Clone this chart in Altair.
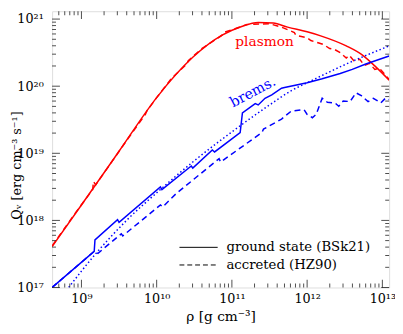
import altair as alt
import pandas as pd

# ---- data (log10 rho, log10 Q) ----
red_solid_lx = [8.61, 9.0, 9.5, 10.0, 10.48, 10.87, 11.13, 11.35, 11.55, 11.74, 12.0, 12.18, 12.52, 12.74, 12.92, 13.09]
red_solid_ly = [17.61, 18.23, 19.03, 19.83, 20.43, 20.76, 20.89, 20.95, 20.94, 20.88, 20.81, 20.75, 20.60, 20.46, 20.28, 20.09]

red_dash_lx = [8.61, 8.9, 9.15, 9.16, 9.19, 9.6, 9.85, 9.87, 10.0, 10.2, 10.4, 10.42, 10.6, 10.87, 10.89, 11.05, 11.2, 11.5, 11.66, 11.83, 11.85, 12.0, 12.05, 12.22, 12.30, 12.36, 12.44, 12.52, 12.56, 12.62, 12.70, 12.76, 12.83, 12.90, 12.96, 13.09]
red_dash_ly = [17.62, 18.08, 18.46, 18.58, 18.53, 19.19, 19.58, 19.63, 19.83, 20.12, 20.33, 20.38, 20.56, 20.76, 20.80, 20.86, 20.92, 20.93, 20.88, 20.80, 20.76, 20.72, 20.68, 20.62, 20.56, 20.55, 20.50, 20.42, 20.46, 20.38, 20.40, 20.31, 20.34, 20.25, 20.27, 20.10]

blue_solid_lx = [8.61, 9.17, 9.18, 9.48, 9.50, 10.05, 10.07, 10.46, 10.48, 10.74, 10.77, 11.11, 11.14, 11.31, 11.35, 11.44, 11.53, 11.66, 11.70, 12.0, 12.2, 12.44, 12.6, 12.78, 13.09]
blue_solid_ly = [17.00, 17.54, 17.71, 18.01, 17.97, 18.50, 18.46, 18.81, 18.78, 19.05, 19.02, 19.31, 19.60, 19.74, 19.72, 19.82, 19.87, 19.97, 19.98, 20.05, 20.11, 20.19, 20.25, 20.33, 20.45]

blue_dash_lx = [8.61, 9.17, 9.22, 9.53, 9.55, 10.05, 10.08, 10.26, 10.83, 10.85, 11.40, 11.42, 11.66, 11.79, 11.96, 12.00, 12.07, 12.12, 12.20, 12.27, 12.37, 12.42, 12.48, 12.57, 12.65, 12.72, 12.81, 12.88, 12.98, 13.04, 13.09]
blue_dash_ly = [17.00, 17.54, 17.51, 17.80, 17.77, 18.23, 18.20, 18.40, 18.92, 18.87, 19.31, 19.36, 19.51, 19.63, 19.65, 19.58, 19.53, 19.58, 19.82, 19.76, 19.75, 19.70, 19.78, 19.77, 19.90, 19.86, 19.77, 19.82, 19.75, 19.82, 19.80]

blue_dot_lx = [8.83, 9.18, 9.6, 10.05, 10.48, 11.05, 11.5, 11.8, 12.0, 12.5, 13.09]
blue_dot_ly = [17.00, 17.49, 18.00, 18.46, 18.87, 19.36, 19.72, 19.94, 20.05, 20.32, 20.60]

x_major = [1e9, 1e10, 1e11, 1e12, 1e13]
x_labels = ["10⁹", "10¹⁰", "10¹¹", "10¹²", "10¹³"]
y_major = [1e17, 1e18, 1e19, 1e20, 1e21]
y_labels = ["10¹⁷", "10¹⁸", "10¹⁹", "10²⁰", "10²¹"]

X_DOM = [10 ** 8.61, 10 ** 13.09]
Y_DOM = [1e17, 10 ** 21.117]

x_minor = [float(k * 10 ** n) for n in range(8, 13) for k in range(2, 10) if X_DOM[0] <= k * 10 ** n <= X_DOM[1]]
y_minor = [float(k * 10 ** n) for n in range(17, 22) for k in range(2, 10) if Y_DOM[0] <= k * 10 ** n <= Y_DOM[1]]

W, H = 344, 282
FONT = "DejaVu Serif"
RED = "#ff0000"
BLUE = "#0000ff"


def series(lx, ly):
    return pd.DataFrame({"x": [10 ** v for v in lx], "y": [10 ** v for v in ly], "i": list(range(len(lx)))})


def expr(vals, labels):
    return "".join(f"datum.value == {v:g} ? '{l}' : " for v, l in zip(vals, labels)) + "''"


xscale = alt.Scale(type="log", domain=X_DOM, nice=False)
yscale = alt.Scale(type="log", domain=Y_DOM, nice=False)
xaxis = alt.Axis(values=x_major, labelExpr=expr(x_major, x_labels), ticks=False, domain=False, grid=False,
                 labelFont=FONT, labelFontSize=13, labelPadding=5, labelColor="black",
                 title="ρ [g cm⁻³]", titleFont=FONT, titleFontSize=14, titleFontWeight="normal",
                 titleY=30, titleBaseline="middle", titleColor="black")
yaxis = alt.Axis(values=y_major, labelExpr=expr(y_major, y_labels), ticks=False, domain=False, grid=False,
                 labelFont=FONT, labelFontSize=13, labelPadding=9, labelColor="black",
                 title="Qᵥ [erg cm⁻³ s⁻¹]", titleFont=FONT, titleFontSize=13, titleFontWeight="normal",
                 titleX=-36, titleY=157, titleAngle=270, titleAlign="center", titleBaseline="middle",
                 titleColor="black")
X = alt.X("x:Q", scale=xscale, axis=xaxis)
Y = alt.Y("y:Q", scale=yscale, axis=yaxis)


def line(df, color, dash=None, width=1.5, interp="linear"):
    kw = dict(color=color, strokeWidth=width, clip=True, interpolate=interp)
    if dash:
        kw["strokeDash"] = dash
    return alt.Chart(df).mark_line(**kw).encode(x=X, y=Y, order="i:Q")


layers = [
    line(series(red_solid_lx, red_solid_ly), RED, interp="monotone"),
    line(series(red_dash_lx, red_dash_ly), RED, [6, 4]),
    line(series(blue_solid_lx, blue_solid_ly), BLUE),
    line(series(blue_dash_lx, blue_dash_ly), BLUE, [6, 4]),
    line(series(blue_dot_lx, blue_dot_ly), BLUE, [1.5, 2.5], interp="monotone"),
]

# inward ticks on all four sides
for vals, ln in [(x_major, 8), (x_minor, 4)]:
    d = pd.DataFrame({"x": vals})
    layers.append(alt.Chart(d).mark_tick(color="black", thickness=1, size=ln, orient="vertical")
                  .encode(x=X, y=alt.value(H - ln / 2)))
    layers.append(alt.Chart(d).mark_tick(color="black", thickness=1, size=ln, orient="vertical")
                  .encode(x=X, y=alt.value(ln / 2)))
for vals, ln in [(y_major, 8), (y_minor, 4)]:
    d = pd.DataFrame({"y": vals})
    layers.append(alt.Chart(d).mark_tick(color="black", thickness=1, size=ln, orient="horizontal")
                  .encode(y=Y, x=alt.value(ln / 2)))
    layers.append(alt.Chart(d).mark_tick(color="black", thickness=1, size=ln, orient="horizontal")
                  .encode(y=Y, x=alt.value(W - ln / 2)))

# curve labels
one = pd.DataFrame({"t": ["plasmon"]})
layers.append(alt.Chart(one).mark_text(font=FONT, fontSize=14, color=RED, align="left", baseline="alphabetic")
              .encode(text="t:N", x=alt.value(187), y=alt.value(36)))
one_b = pd.DataFrame({"t": ["brems."]})
layers.append(alt.Chart(one_b).mark_text(font=FONT, fontSize=14.5, color=BLUE, align="center", baseline="middle", angle=332)
              .encode(text="t:N", x=alt.value(205), y=alt.value(83)))

# legend
leg = pd.DataFrame({"t": ["ground state (BSk21)", "accreted (HZ90)"]})
layers.append(alt.Chart(leg.iloc[[0]]).mark_rule(color="black", strokeWidth=1)
              .encode(x=alt.value(130), x2=alt.value(169), y=alt.value(241)))
layers.append(alt.Chart(leg.iloc[[1]]).mark_rule(color="black", strokeWidth=1, strokeDash=[5, 3])
              .encode(x=alt.value(130), x2=alt.value(169), y=alt.value(259)))
layers.append(alt.Chart(leg.iloc[[0]]).mark_text(font=FONT, fontSize=13.5, color="black", align="left", baseline="middle")
              .encode(text="t:N", x=alt.value(178), y=alt.value(241)))
layers.append(alt.Chart(leg.iloc[[1]]).mark_text(font=FONT, fontSize=13.5, color="black", align="left", baseline="middle")
              .encode(text="t:N", x=alt.value(178), y=alt.value(259)))

chart = alt.layer(*layers).properties(
    width=W, height=H,
    autosize=alt.AutoSizeParams(type="none"),
    padding={"left": 45, "top": 0, "right": 6, "bottom": 36},
).configure_view(stroke="black", strokeWidth=1.2).configure(background="white")

chart.save("out.html", embed_options={"renderer": "svg", "actions": False})
